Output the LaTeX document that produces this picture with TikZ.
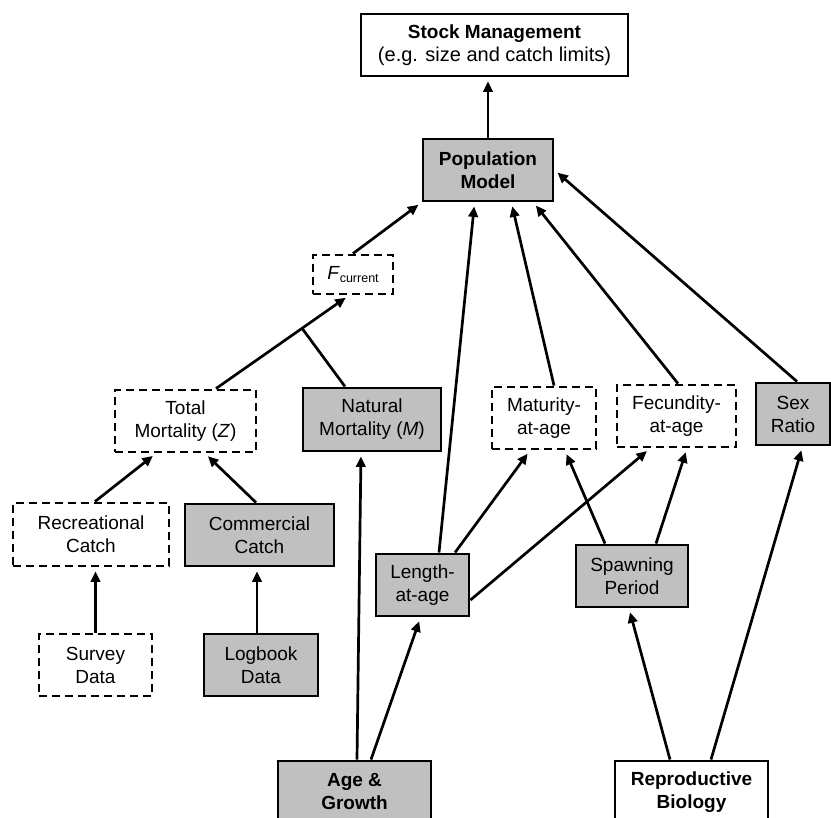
\documentclass[tikz,border=0pt]{standalone}
\usepackage{fontspec}
\setmainfont{Liberation Sans}
\usetikzlibrary{arrows.meta,calc}
\definecolor{boxgray}{HTML}{C0C0C0}
\begin{document}
\begin{tikzpicture}[x=1pt,y=-1pt,
  every node/.style={font=\fontsize{19}{23}\selectfont, align=center, inner sep=0pt},
  box/.style={draw=black, line width=2.9pt, minimum width=#1, minimum height=62pt},
  gbox/.style={box=#1, fill=boxgray},
  dbox/.style={box=#1, fill=white, dash pattern=on 8pt off 5pt},
  arr/.style={line width=2.7pt, -{Triangle[length=10.5pt,width=9.5pt]}, shorten >=4pt},
  ln/.style={line width=2.7pt}
]
\useasboundingbox (0,0) rectangle (831,818);
\begin{scope}
\clip (0,0) rectangle (831,818);
% nodes
\node[box=267pt, fill=white] (stock) at (494.5,45) {\textbf{Stock Management}\\{\fontsize{20}{23}\selectfont (e.g. size and catch limits)}};
\node[gbox=130pt] (pop) at (488,170) {\textbf{Population}\\\textbf{Model}};
\node[dbox=80pt, minimum height=39pt] (fcur) at (353,274.5) {\textit{F}\raisebox{-0.35ex}{\fontsize{12.5}{12.5}\selectfont current}};
\node[dbox=141pt] (total) at (185.5,421) {Total\\Mortality (\textit{Z})};
\node[gbox=138pt, minimum height=63pt] (natural) at (372,419.5) {Natural\\Mortality (\textit{M})};
\node[dbox=104pt] (maturity) at (544,418) {Maturity-\\at-age};
\node[dbox=119pt] (fecundity) at (676.5,416) {Fecundity-\\at-age};
\node[gbox=74pt] (sex) at (793,414) {Sex\\Ratio};
\node[dbox=156pt, minimum height=63pt] (recreational) at (91,534.5) {Recreational\\Catch};
\node[gbox=149pt] (commercial) at (259.5,535) {Commercial\\Catch};
\node[gbox=93pt] (length) at (422.5,585) {Length-\\at-age};
\node[gbox=112pt] (spawning) at (632,576) {Spawning\\Period};
\node[dbox=113pt] (survey) at (95.5,665) {Survey\\Data};
\node[gbox=114pt] (logbook) at (261,665) {Logbook\\Data};
\node[gbox=153pt] (age) at (354.5,792) {\textbf{Age \&}\\\textbf{Growth}};
\node[box=153pt, fill=white] (repro) at (691.5,792) {\textbf{Reproductive}\\\textbf{Biology}};
% connectors
\draw[arr] (pop.north) -- (stock.south -| pop.north);
\draw[arr] (fcur.north) -- (pop.south west);
\draw[arr] ([xshift=30.5pt]total.north) -- coordinate[pos=0.647] (j) ([xshift=-4pt]fcur.south);
\draw[ln] ([xshift=-27pt]natural.north) -- (j);
\draw[arr] ([xshift=16.5pt]length.north) -- ([xshift=-13.4pt]pop.south);
\draw[arr] ([xshift=10pt]maturity.north) -- ([xshift=23.4pt]pop.south);
\draw[arr] ([xshift=1.5pt]fecundity.north) -- ([xshift=45.4pt]pop.south);
\draw[arr] ([xshift=4pt]sex.north) -- (pop.east);
\draw[arr] ([xshift=4pt]recreational.north) -- ([xshift=-29.5pt]total.south);
\draw[arr] ([xshift=-3.5pt]commercial.north) -- ([xshift=19.5pt]total.south);
\draw[arr] (survey.north) -- (recreational.south -| survey.north);
\draw[arr] ([xshift=-4pt]logbook.north) -- ([xshift=-4pt]logbook.north |- commercial.south);
\draw[arr] ([xshift=2.5pt]age.north) -- ([xshift=-11pt]natural.south);
\draw[arr] ([xshift=16.5pt]age.north) -- ([xshift=-2pt]length.south);
\draw[arr] ([xshift=32.5pt]length.north) -- ([xshift=-14pt]maturity.south);
\draw[arr] ([yshift=-15pt]length.east) -- ([xshift=-26.5pt]fecundity.south);
\draw[arr] ([xshift=-27pt]spawning.north) -- ([xshift=21pt]maturity.south);
\draw[arr] ([xshift=24pt]spawning.north) -- ([xshift=10.5pt]fecundity.south);
\draw[arr] ([xshift=-21.5pt]repro.north) -- ([xshift=-3pt]spawning.south);
\draw[arr] ([xshift=19.5pt]repro.north) -- ([xshift=9.5pt]sex.south);
\end{scope}
\end{tikzpicture}
\end{document}
